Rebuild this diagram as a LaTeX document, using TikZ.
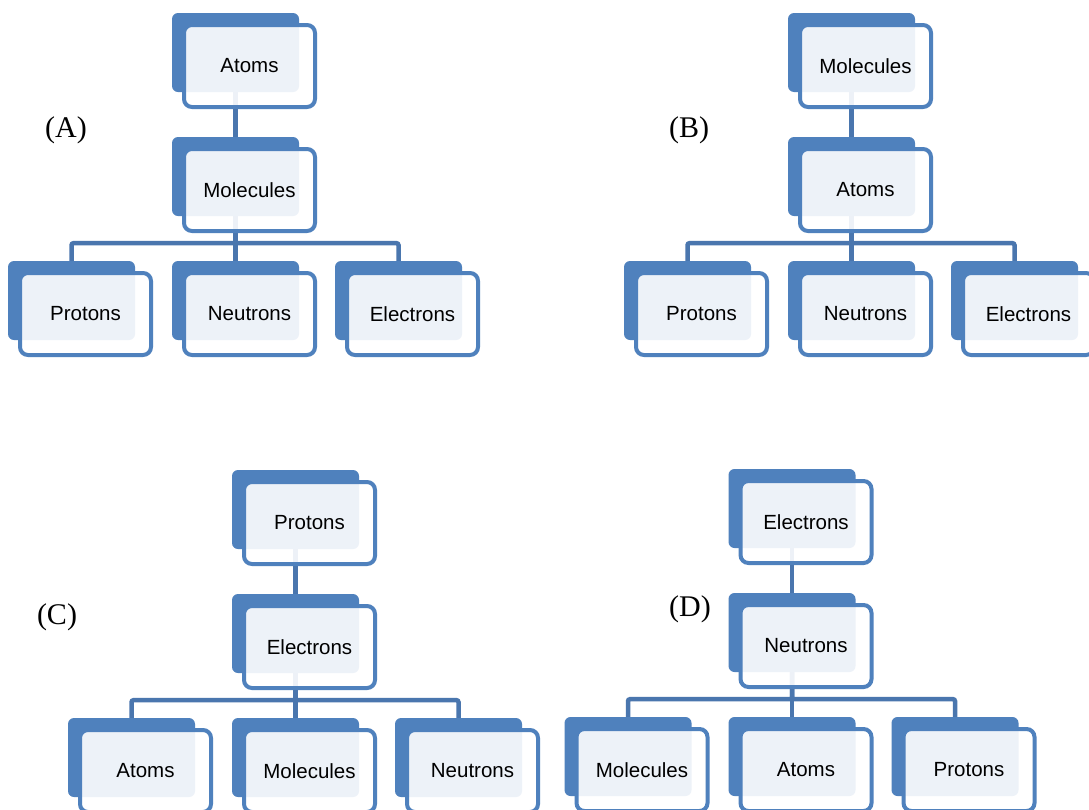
\documentclass[tikz,border=0pt]{standalone}
\usepackage{fontspec}
\setmainfont{Liberation Serif}
\newfontfamily\boxfont{Liberation Sans}
\usetikzlibrary{calc}
\pgfdeclarelayer{bg}
\pgfdeclarelayer{paper}
\pgfsetlayers{paper,bg,main}
\definecolor{obl}{HTML}{4F81BD}
\definecolor{oln}{HTML}{4A76AE}
\tikzset{
 backbox/.style={fill=obl, draw=none, rounded corners=6pt, minimum width=127pt, minimum height=79pt, inner sep=0pt},
 frontbox/.style={draw=obl, line width=4pt, fill=white, fill opacity=0.9, text opacity=1, rounded corners=8pt, minimum width=131pt, minimum height=82pt, inner sep=0pt, font=\boxfont\fontsize{20.5}{24}\selectfont},
 conn/.style={draw=oln, line width=4.5pt, rounded corners=2pt},
 panellabel/.style={font=\fontsize{30}{36}\selectfont, inner sep=0pt}
}
\newcommand\orgbox[4]{%
 \node[backbox] (#1b) at (#2+63.5,#3+39.5) {};
 \node[frontbox] (#1) at (#2+77.5,#3+53) {#4};}
\newcommand\orgpanel[8]{%
\begin{scope}[shift={(#2,#3)}]
 \orgbox{#1t}{172}{13}{#4}
 \orgbox{#1m}{172}{137}{#5}
 \orgbox{#1a}{8}{261}{#6}
 \orgbox{#1c}{172}{261}{#7}
 \orgbox{#1d}{335}{261}{#8}
 \begin{pgfonlayer}{bg}
 \draw[conn] (#1tb.south) -- (#1mb.north);
 \draw[conn] (#1mb.south) -- ++(0,27) -| (#1ab.north);
 \draw[conn] (#1mb.south) -- ++(0,27) -| (#1cb.north);
 \draw[conn] (#1mb.south) -- ++(0,27) -| (#1db.north);
 \end{pgfonlayer}
\end{scope}}
\begin{document}
\begin{tikzpicture}[x=1pt,y=-1pt]
\path[use as bounding box, clip] (0,0) rectangle (1089,809);
\begin{pgfonlayer}{paper}
\fill[white] (0,0) rectangle (1089,809);
\end{pgfonlayer}
\orgpanel{A}{0}{0}{Atoms}{Molecules}{Protons}{Neutrons}{Electrons}
\orgpanel{B}{616}{0}{Molecules}{Atoms}{Protons}{Neutrons}{Electrons}
\orgpanel{C}{60}{457}{Protons}{Electrons}{Atoms}{Molecules}{Neutrons}
\orgpanel{D}{556.5}{456}{Electrons}{Neutrons}{Molecules}{Atoms}{Protons}
\node[panellabel] (la) at (66,130) {(A)};
\node[panellabel] (lb) at (689,130) {(B)};
\node[panellabel] (lc) at (57,617) {(C)};
\node[panellabel] (ld) at (690,609) {(D)};
\end{tikzpicture}
\end{document}
